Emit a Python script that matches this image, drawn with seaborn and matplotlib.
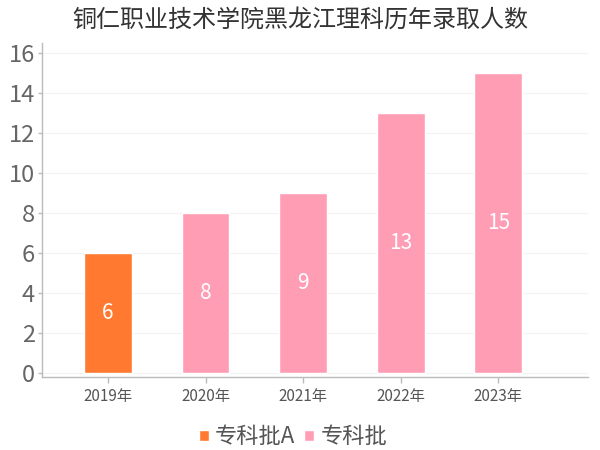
import matplotlib
matplotlib.use("Agg")
import matplotlib.pyplot as plt
import seaborn as sns
import pandas as pd

# 数据
years = ["2019年", "2020年", "2021年", "2022年", "2023年"]
counts = [6, 8, 9, 13, 15]
batches = ["专科批A", "专科批", "专科批", "专科批", "专科批"]
palette = {"专科批A": "#FF7A30", "专科批": "#FF9DB5"}

sns.set_theme(style="white")
plt.rcParams['font.family'] = ['Noto Sans CJK SC', 'DejaVu Sans']
plt.rcParams['axes.unicode_minus'] = False

df = pd.DataFrame({"year": years, "count": counts, "batch": batches})

fig = plt.figure(figsize=(6, 4.5), dpi=100)
ax = fig.add_axes([0.07, 0.1622, 0.91, 0.7422])

sns.barplot(data=df, x="year", y="count", hue="batch", palette=palette,
            dodge=False, width=0.49, saturation=1, ax=ax, legend=True)

# 柱内数值
for bar_container in ax.containers:
    for bar in bar_container:
        h = bar.get_height()
        if h > 0:
            ax.text(bar.get_x() + bar.get_width() / 2, h / 2, f"{int(h)}",
                    ha='center', va='center', color='white', fontsize=15)

ax.set_xlim(-0.677, 4.92)
ax.set_ylim(-0.2, 16.5)
ax.set_yticks(range(0, 17, 2))
ax.set_xlabel("")
ax.set_ylabel("")
ax.grid(axis='y', color='#f2f2f2', linewidth=0.8)
ax.set_axisbelow(True)

for s in ['top', 'right']:
    ax.spines[s].set_visible(False)
for s in ['left', 'bottom']:
    ax.spines[s].set_color('#bbbbbb')
    ax.spines[s].set_linewidth(1)

ax.tick_params(axis='y', labelsize=17, colors='#bbbbbb', labelcolor='#666666',
               length=3, width=1, left=True, pad=2)
ax.tick_params(axis='x', labelsize=11, colors='#bbbbbb', labelcolor='#555555',
               length=4, width=1, bottom=True, pad=4)

ax.set_title("铜仁职业技术学院黑龙江理科历年录取人数", fontsize=17.3,
             color='#333333', x=0.5 - 0.027, y=1.0, pad=12)

leg = ax.legend(loc='upper center', bbox_to_anchor=(0.46, -0.085), ncol=2,
                frameon=False, fontsize=16, handlelength=0.45, handleheight=0.45,
                handletextpad=0.3, columnspacing=0.4)
for t in leg.get_texts():
    t.set_color('#555555')

plt.savefig("out.png", dpi=100)
plt.close()
